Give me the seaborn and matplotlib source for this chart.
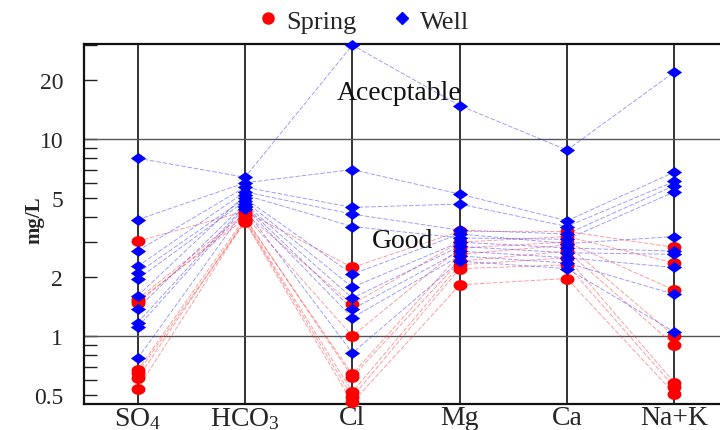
import numpy as np
import pandas as pd
import matplotlib
matplotlib.use("Agg")
import matplotlib.pyplot as plt
import seaborn as sns
from matplotlib.ticker import FixedLocator, FixedFormatter, NullFormatter
from matplotlib.lines import Line2D

# ---------------- data ----------------
ions = ["SO4", "HCO3", "Cl", "Mg", "Ca", "Na+K"]
ion_labels = ["SO$_4$", "HCO$_3$", "Cl", "Mg", "Ca", "Na+K"]

# Spring samples (mg/L)
spring_so4 = [3.03, 1.54, 1.48, 1.50, 0.67, 0.61, 0.54, 0.65]
spring_hco3 = [4.30, 4.20, 4.10, 3.95, 4.00, 3.90, 3.85, 3.80]
spring_cl = [2.23, 1.45, 1.00, 0.64, 0.62, 0.52, 0.49, 0.46]
spring_mg = [3.40, 3.00, 2.80, 2.60, 2.40, 2.30, 2.20, 1.82]
spring_ca = [3.40, 3.20, 3.00, 2.90, 2.70, 2.50, 2.30, 1.96]
spring_nak = [2.82, 2.35, 1.71, 1.00, 0.90, 0.58, 0.55, 0.51]

# Well samples (mg/L)
well_so4 = [8.0, 3.9, 2.71, 2.26, 1.60, 2.09, 1.95, 1.38, 1.17, 1.11, 0.77]
well_hco3 = [6.4, 6.0, 5.7, 5.4, 5.2, 5.0, 4.85, 4.7, 4.6, 4.5, 4.4]
well_cl = [30.0, 7.0, 4.5, 4.16, 3.6, 2.06, 1.77, 1.56, 1.37, 1.24, 0.82]
well_mg = [14.8, 5.26, 4.68, 3.45, 3.15, 3.3, 3.0, 2.85, 2.7, 2.55, 2.4]
well_ca = [8.8, 3.85, 3.6, 3.3, 3.1, 2.95, 2.8, 2.65, 2.5, 2.35, 2.2]
well_nak = [21.9, 6.8, 6.1, 5.8, 5.4, 3.2, 2.7, 2.6, 2.23, 1.63, 1.05]

ytick_vals = [0.5, 1, 2, 5, 10, 20]
ytick_labels = ["0.5", "1", "2", "5", "10", "20"]


def to_long(cols, group):
    rows = []
    for pos, vals in enumerate(cols):
        for i, v in enumerate(vals):
            rows.append({"pos": pos, "ion": ions[pos], "value": v,
                         "sample": f"{group}{i}", "type": group})
    return pd.DataFrame(rows)


df_spring = to_long([spring_so4, spring_hco3, spring_cl, spring_mg,
                     spring_ca, spring_nak], "Spring")
df_well = to_long([well_so4, well_hco3, well_cl, well_mg,
                   well_ca, well_nak], "Well")

# ---------------- style ----------------
sns.set_theme(style="white")
plt.rcParams["font.family"] = ["Liberation Serif", "DejaVu Serif"]
plt.rcParams["mathtext.fontset"] = "custom"
plt.rcParams["mathtext.rm"] = "Liberation Serif"
plt.rcParams["mathtext.it"] = "Liberation Serif:italic"
plt.rcParams["mathtext.bf"] = "Liberation Serif:bold"

fig = plt.figure(figsize=(7.2, 4.31), dpi=100)
ax = fig.add_axes([84 / 720, 1 - 405 / 431, (728 - 84) / 720, (405 - 45) / 431])

ax.set_yscale("log")
ax.set_xlim(-0.5, 5.5)
ax.set_ylim(0.452, 30.4)

# grid
for x in range(len(ions)):
    ax.axvline(x, color="#222222", lw=1.3, zorder=1)
for y in [1, 10]:
    ax.axhline(y, color="#555555", lw=1.0, zorder=1)

ellipse = [(np.cos(t), 0.78 * np.sin(t)) for t in np.linspace(0, 2 * np.pi, 41)]
diamond = [(-1, 0), (0, 0.72), (1, 0), (0, -0.72), (-1, 0)]

line_kw = dict(lw=0.65, alpha=0.5, linestyle=(0, (5, 2)), legend=False,
               estimator=None, sort=False)
sns.lineplot(data=df_spring, x="pos", y="value", units="sample",
             color="#ff3030", ax=ax, zorder=2, **line_kw)
sns.lineplot(data=df_well, x="pos", y="value", units="sample",
             color="#3030ff", ax=ax, zorder=2, **line_kw)

sns.scatterplot(data=df_spring, x="pos", y="value", color="#ff0000",
                marker=ellipse, s=100, linewidth=0, ax=ax, legend=False,
                zorder=3, clip_on=False)
sns.scatterplot(data=df_well, x="pos", y="value", color="#0000ff",
                marker=diamond, s=120, linewidth=0, ax=ax, legend=False,
                zorder=4, clip_on=False)

# axes formatting
ax.set_xticks(range(len(ions)))
ax.set_xticklabels(ion_labels, fontsize=20)
ax.tick_params(axis="x", length=0, pad=1)

ax.yaxis.set_major_locator(FixedLocator(ytick_vals))
ax.yaxis.set_major_formatter(FixedFormatter(ytick_labels))
minor = [m * 10.0 ** e for e in (-1, 0, 1) for m in range(2, 10)]
minor = [v for v in minor if v not in ytick_vals and 0.45 < v < 31]
ax.yaxis.set_minor_locator(FixedLocator(minor))
ax.yaxis.set_minor_formatter(NullFormatter())
ax.tick_params(axis="y", which="both", direction="in", length=9.5,
               width=1.0, color="#222222", left=True, right=False,
               labelsize=17, pad=15)

ax.set_xlabel("")
ax.set_ylabel("mg/L", fontsize=15, fontweight="bold")
ax.yaxis.set_label_coords(-0.062, 0.514)

for side in ["left", "top", "bottom", "right"]:
    ax.spines[side].set_color("#111111")
    ax.spines[side].set_linewidth(1.6)

ax.text(2.44, 17.3, "Acecptable", fontsize=20, ha="center", va="center",
        color="#111111", zorder=5)
ax.text(2.47, 3.07, "Good", fontsize=20, ha="center", va="center",
        color="#111111", zorder=5)

handles = [
    Line2D([], [], marker="o", color="#ff0000", ls="none", ms=8),
    Line2D([], [], marker="D", color="#0000ff", ls="none", ms=6),
]
fig.legend(handles, ["Spring", "Well"], loc="center",
           bbox_to_anchor=(0.503, 0.949), ncol=2, frameon=False,
           fontsize=19, handletextpad=0.2, columnspacing=1.2,
           handlelength=1.0)

fig.savefig("out.png", dpi=100)
